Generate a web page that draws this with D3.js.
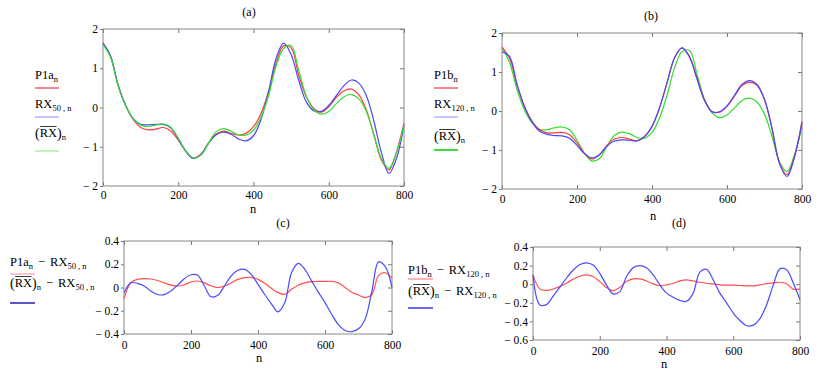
<!DOCTYPE html>
<html>
<head>
<meta charset="utf-8">
<script src="https://cdn.jsdelivr.net/npm/d3@7"></script>
<style>
  body { margin: 0; background: #fff; }
</style>
</head>
<body>
<svg id="chart" width="830" height="377"></svg>
<script>
// sample positions (n) shared by every series
const nValues = [0, 20, 40, 60, 80, 100, 120, 140, 160, 180, 200, 220, 240, 260, 280, 300, 320, 340, 360, 380,
  400, 420, 440, 460, 480, 500, 520, 540, 560, 580, 600, 620, 640, 660, 680, 700, 720, 740, 760, 780, 800];

// panel (a)
const p1a = [1.64, 1.30, 0.57, 0.06, -0.30, -0.51, -0.57, -0.55, -0.51, -0.60, -0.83, -1.11, -1.29, -1.19, -0.91, -0.68, -0.60, -0.66, -0.70, -0.66,
  -0.49, -0.15, 0.40, 1.13, 1.57, 1.52, 0.83, 0.28, -0.02, -0.12, 0.02, 0.25, 0.42, 0.47, 0.32, -0.06, -0.70, -1.34, -1.59, -1.13, -0.40];
const rx50 = [1.64, 1.32, 0.58, 0.06, -0.28, -0.43, -0.44, -0.43, -0.43, -0.52, -0.80, -1.12, -1.30, -1.20, -0.92, -0.70, -0.63, -0.68, -0.80, -0.85,
  -0.72, -0.30, 0.40, 1.25, 1.64, 1.35, 0.70, 0.15, -0.08, -0.10, 0.05, 0.30, 0.55, 0.70, 0.62, 0.30, -0.35, -1.15, -1.68, -1.30, -0.45];
const rxBarA = [1.60, 1.28, 0.55, 0.05, -0.28, -0.45, -0.48, -0.45, -0.42, -0.50, -0.78, -1.10, -1.29, -1.22, -0.92, -0.62, -0.54, -0.60, -0.70, -0.70,
  -0.58, -0.25, 0.30, 1.05, 1.50, 1.58, 0.95, 0.30, -0.05, -0.17, -0.10, 0.10, 0.27, 0.33, 0.22, -0.10, -0.70, -1.30, -1.55, -1.15, -0.45];

// panel (b)
const p1b = [1.64, 1.36, 0.68, 0.12, -0.26, -0.48, -0.56, -0.56, -0.55, -0.61, -0.82, -1.09, -1.23, -1.12, -0.88, -0.72, -0.68, -0.72, -0.76, -0.65,
  -0.39, 0.08, 0.72, 1.36, 1.62, 1.40, 0.85, 0.29, -0.01, -0.03, 0.12, 0.38, 0.65, 0.74, 0.66, 0.29, -0.44, -1.33, -1.63, -1.16, -0.26];
const rx120 = [1.52, 1.40, 0.68, 0.10, -0.28, -0.52, -0.60, -0.63, -0.64, -0.70, -0.88, -1.10, -1.20, -1.12, -0.90, -0.77, -0.74, -0.75, -0.77, -0.66,
  -0.40, 0.08, 0.72, 1.36, 1.62, 1.38, 0.82, 0.27, -0.02, -0.02, 0.13, 0.40, 0.68, 0.78, 0.68, 0.30, -0.45, -1.35, -1.68, -1.18, -0.30];
const rxBarB = [1.62, 1.25, 0.55, 0.02, -0.30, -0.47, -0.48, -0.43, -0.41, -0.48, -0.75, -1.08, -1.28, -1.22, -0.90, -0.62, -0.54, -0.58, -0.68, -0.70,
  -0.55, -0.18, 0.40, 1.10, 1.52, 1.55, 0.95, 0.30, -0.05, -0.17, -0.10, 0.08, 0.27, 0.33, 0.23, -0.08, -0.65, -1.30, -1.55, -1.12, -0.40];

// panel (c)
const diffP1aRx50 = [-0.096, 0.04, 0.07, 0.076, 0.073, 0.06, 0.04, 0.02, 0.013, 0.024, 0.047, 0.056, 0.04, 0.013, 0.0, 0.013, 0.04, 0.07, 0.085, 0.087,
  0.07, 0.036, -0.007, -0.044, -0.059, -0.016, 0.02, 0.04, 0.05, 0.053, 0.053, 0.053, 0.04, 0.0, -0.04, -0.065, -0.087, -0.06, 0.105, 0.127, 0.08];
const diffBarRx50 = [-0.045, 0.04, 0.036, 0.013, -0.03, -0.06, -0.062, -0.03, 0.02, 0.076, 0.11, 0.105, 0.013, -0.08, -0.067, 0.013, 0.10, 0.148, 0.156, 0.113,
  0.027, -0.06, -0.14, -0.21, -0.13, 0.127, 0.208, 0.156, 0.056, -0.04, -0.13, -0.23, -0.32, -0.37, -0.38, -0.355, -0.27, -0.03, 0.22, 0.18, 0.0];

// panel (d)
const diffP1bRx120 = [0.10, -0.05, -0.067, -0.053, -0.025, 0.01, 0.053, 0.085, 0.10, 0.082, 0.028, -0.035, -0.07, -0.035, 0.028, 0.057, 0.057, 0.035, 0.004, -0.014,
  -0.007, 0.01, 0.035, 0.046, 0.035, 0.021, 0.01, 0.004, -0.007, -0.01, -0.01, -0.014, -0.018, -0.018, -0.007, 0.007, 0.014, 0.021, 0.004, -0.053, -0.05];
const diffBarRx120 = [0.10, -0.22, -0.22, -0.13, -0.035, 0.064, 0.15, 0.21, 0.23, 0.206, 0.117, -0.007, -0.105, -0.08, 0.08, 0.177, 0.20, 0.177, 0.10, -0.007,
  -0.096, -0.14, -0.174, -0.184, -0.096, 0.13, 0.16, 0.046, -0.096, -0.20, -0.31, -0.39, -0.447, -0.44, -0.37, -0.22, -0.007, 0.165, 0.155, 0.01, -0.167];

// ticks
const xTicks = [0, 200, 400, 600, 800];
const yTicksTop = [-2, -1, 0, 1, 2];
const yTicksC = [-0.4, -0.2, 0, 0.2, 0.4];
const yTicksD = [-0.6, -0.4, -0.2, 0, 0.2, 0.4];

const FONT = 'Liberation Serif';
const svg = d3.select('#chart');

const fmt = d => d === 0 ? '0' : (d < 0 ? '\u2212 ' : '') + Math.abs(d);

function drawPanel(cfg) {
  const w = cfg.right - cfg.left;
  const h = cfg.bottom - cfg.top;
  const g = svg.append('g').attr('transform', `translate(${cfg.left},${cfg.top})`);

  const x = d3.scaleLinear().domain([0, 800]).range([0, w]);
  const y = d3.scaleLinear().domain(cfg.yDomain).range([h, 0]);

  const styleAxis = sel => {
    sel.attr('font-family', FONT).attr('font-size', 11.5);
    sel.select('.domain').remove();
    sel.selectAll('.tick line').attr('stroke', '#777');
  };

  g.append('g').call(d3.axisLeft(y).tickValues(cfg.yTicks).tickSize(3).tickPadding(2).tickFormat(fmt)).call(styleAxis);
  g.append('g').attr('transform', `translate(${w},0)`)
    .call(d3.axisRight(y).tickValues(cfg.yTicks).tickSize(-4).tickFormat('')).call(styleAxis);
  g.append('g').attr('transform', `translate(0,${h})`)
    .call(d3.axisBottom(x).tickValues(xTicks).tickSize(-4).tickPadding(cfg.xPad).tickFormat(d => d)).call(styleAxis);
  g.append('g')
    .call(d3.axisTop(x).tickValues(xTicks).tickSize(-4).tickFormat('')).call(styleAxis);

  g.append('rect')
    .attr('width', w).attr('height', h)
    .attr('fill', 'none').attr('stroke', '#888').attr('stroke-width', 1);

  const line = d3.line()
    .x((d, i) => x(nValues[i]))
    .y(d => y(d))
    .curve(d3.curveCatmullRom.alpha(0.5));

  cfg.series.forEach(s => {
    g.append('path')
      .datum(s.values)
      .attr('fill', 'none')
      .attr('stroke', s.color)
      .attr('stroke-width', 1.2)
      .attr('d', line);
  });

  svg.append('text')
    .attr('x', cfg.titleX).attr('y', cfg.titleY)
    .attr('text-anchor', 'middle')
    .attr('font-family', FONT).attr('font-size', 12)
    .text(cfg.title);

  svg.append('text')
    .attr('x', cfg.nX).attr('y', cfg.nY)
    .attr('text-anchor', 'middle')
    .attr('font-family', FONT).attr('font-size', 12.5)
    .text('n');
}

// text made of pieces: normal, subscript, overlined
function richText(x, y, parts) {
  let cx = x;
  parts.forEach(p => {
    cx += p.gap || 0;
    const t = svg.append('text')
      .attr('x', cx).attr('y', y + (p.dy || 0))
      .attr('font-family', FONT)
      .attr('font-size', p.size || 12.5)
      .text(p.t);
    const wid = t.node().getComputedTextLength();
    if (p.over) {
      svg.append('line')
        .attr('x1', cx + 0.5).attr('x2', cx + wid - 0.5)
        .attr('y1', y - 10.5).attr('y2', y - 10.5)
        .attr('stroke', '#222').attr('stroke-width', 0.9);
    }
    cx += wid;
  });
}

function legendLine(x, y, len, color, width) {
  svg.append('line')
    .attr('x1', x).attr('x2', x + len)
    .attr('y1', y).attr('y2', y)
    .attr('stroke', color).attr('stroke-width', width);
}

const sub = (t, gap) => ({ t: t, size: 8.5, dy: 3, gap: gap || 0 });
const minusRx = { t: '\u2212', gap: 5 };
const rxAfterMinus = { t: 'RX', gap: 5 };
const rxBarParts = [{ t: '(', size: 14, dy: 1 }, { t: 'RX', over: true }, { t: ')', size: 14, dy: 1 }, sub('n')];

drawPanel({
  left: 103, right: 404, top: 29, bottom: 186, yDomain: [-2, 2], yTicks: yTicksTop, xPad: 5,
  title: '(a)', titleX: 249, titleY: 16, nX: 253, nY: 213,
  series: [
    { values: p1a, color: '#ff3b3b' },
    { values: rx50, color: '#4848ff' },
    { values: rxBarA, color: '#2ee02e' }
  ]
});

drawPanel({
  left: 502, right: 802, top: 33, bottom: 189, yDomain: [-2, 2], yTicks: yTicksTop, xPad: 6,
  title: '(b)', titleX: 651, titleY: 20, nX: 653, nY: 220,
  series: [
    { values: rxBarB, color: '#2ee02e' },
    { values: p1b, color: '#ff3b3b' },
    { values: rx120, color: '#4848ff' }
  ]
});

drawPanel({
  left: 124, right: 392, top: 241, bottom: 334, yDomain: [-0.4, 0.4], yTicks: yTicksC, xPad: 7,
  title: '(c)', titleX: 283, titleY: 227, nX: 259, nY: 362,
  series: [
    { values: diffP1aRx50, color: '#ff5050' },
    { values: diffBarRx50, color: '#4a4aff' }
  ]
});

drawPanel({
  left: 533, right: 800, top: 247, bottom: 340, yDomain: [-0.6, 0.4], yTicks: yTicksD, xPad: 7,
  title: '(d)', titleX: 679, titleY: 227, nX: 664, nY: 368,
  series: [
    { values: diffP1bRx120, color: '#ff5050' },
    { values: diffBarRx120, color: '#4a4aff' }
  ]
});

// legend (a)
richText(35, 79, [{ t: 'P1a' }, sub('n')]);
legendLine(35, 88, 24, '#ff6a6a', 1.6);
richText(35, 108, [{ t: 'RX' }, sub('50 , n')]);
legendLine(35, 117, 24, '#8a8aff', 1);
richText(35, 137, rxBarParts);
legendLine(35, 151, 24, '#7ee87e', 1);

// legend (b)
richText(434, 79, [{ t: 'P1b' }, sub('n')]);
legendLine(434, 88, 24, '#ff6a6a', 1.6);
richText(434, 108, [{ t: 'RX' }, sub('120 , n')]);
legendLine(434, 117, 24, '#8a8aff', 1);
richText(434, 140, rxBarParts);
legendLine(434, 150, 24, '#11d011', 1.6);

// legend (c)
richText(10, 266, [{ t: 'P1a' }, sub('n'), minusRx, rxAfterMinus, sub('50 , n')]);
legendLine(10, 274, 25, '#ff8a8a', 1);
richText(10, 287, rxBarParts.concat([minusRx, rxAfterMinus, sub('50 , n')]));
legendLine(10, 303, 25, '#2020b8', 1.5);

// legend (d)
richText(408, 274, [{ t: 'P1b' }, sub('n'), minusRx, rxAfterMinus, sub('120 , n')]);
legendLine(408, 279, 25, '#ff6a6a', 1);
richText(408, 295, rxBarParts.concat([minusRx, rxAfterMinus, sub('120 , n')]));
legendLine(408, 308, 25, '#6a6aff', 2);
</script>
</body>
</html>
